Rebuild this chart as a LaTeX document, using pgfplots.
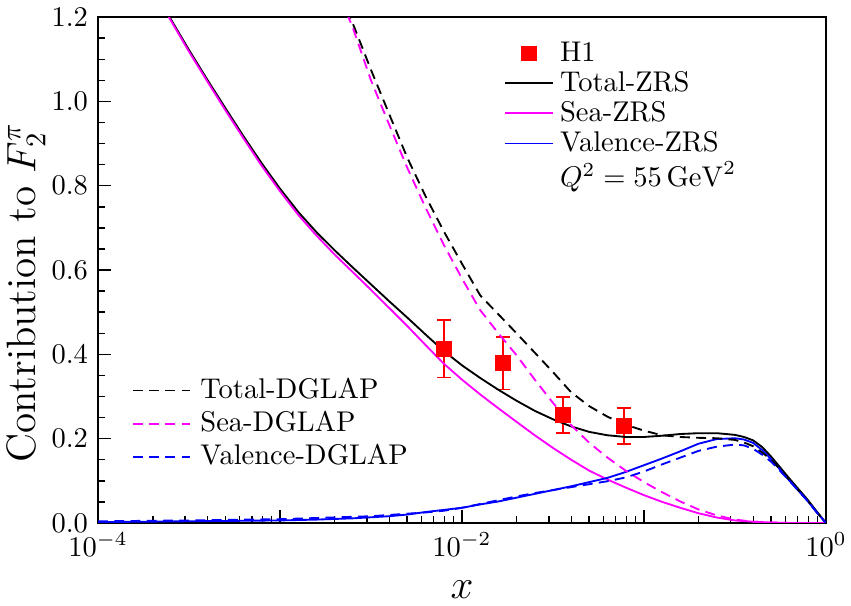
\documentclass[border=0pt]{standalone}
\usepackage{pgfplots}
\pgfplotsset{compat=1.18}
\definecolor{mag}{RGB}{255,0,255}
\definecolor{blu}{RGB}{0,0,255}
\definecolor{rd}{RGB}{255,0,0}
\tikzset{dgl/.style={dash pattern=on 3.5pt off 2.2pt}}
\begin{document}
\begin{tikzpicture}
\begin{axis}[
  scale only axis, width=255.4pt, height=177.5pt,
  xmode=log, xmin=1e-4, xmax=1, ymin=0, ymax=1.2,
  xtick={1e-4,1e-3,1e-2,1e-1,1},
  xticklabels={$10^{-4}$,,$10^{-2}$,,$10^{0}$},
  minor xtick={2e-4,3e-4,4e-4,5e-4,6e-4,7e-4,8e-4,9e-4,
               2e-3,3e-3,4e-3,5e-3,6e-3,7e-3,8e-3,9e-3,
               2e-2,3e-2,4e-2,5e-2,6e-2,7e-2,8e-2,9e-2,
               0.2,0.3,0.4,0.5,0.6,0.7,0.8,0.9},
  ytick={0,0.2,0.4,0.6,0.8,1.0,1.2},
  minor y tick num=3,
  y tick label style={/pgf/number format/.cd, fixed, fixed zerofill, precision=1},
  tick align=inside, tick pos=left,
  major tick length=4.5pt, minor tick length=2.3pt,
  axis line style={line width=0.7pt},
  every tick/.style={black, line width=0.5pt},
  xlabel={$x$}, ylabel={Contribution to $F_2^{\pi}$},
  label style={font=\Large},
  xlabel style={at={(axis description cs:0.5,0)}, anchor=center, yshift=-23.5pt},
  ylabel style={at={(axis description cs:-0.099,0.455)}, anchor=center},
  every axis plot/.append style={line width=0.65pt},
  legend style={at={(0.545,0.975)}, anchor=north west, draw=none, fill=none,
    font=\normalsize, row sep=-2pt},
  legend cell align=left,
]
\coordinate (SW) at (rel axis cs:0,0);
\coordinate (NE) at (rel axis cs:1,1);
% H1 data
\addplot[only marks, mark=square*, mark size=2.4pt, rd,
  error bars/.cd, y dir=both, y explicit,
  error bar style={rd, line width=0.5pt},
  error mark options={rotate=90, mark size=2.4pt, rd, line width=0.5pt}]
  table[x=x, y=y, y error=e] {
  x y e
  7.96e-3 0.413 0.068
  0.0168 0.379 0.062
  0.0359 0.256 0.043
  0.0776 0.230 0.043
  };
\addlegendentry{H1}
% Total-ZRS
\addplot[color=black] table {
1.995e-4 1.27
2.512e-4 1.195
3.162e-4 1.122
3.981e-4 1.052
5.012e-4 0.984
6.310e-4 0.917
7.943e-4 0.853
1e-3 0.793
1.259e-3 0.738
1.585e-3 0.690
1.995e-3 0.647
2.512e-3 0.606
3.162e-3 0.566
3.981e-3 0.526
5.012e-3 0.487
6.310e-3 0.447
7.943e-3 0.408
1e-2 0.374
1.259e-2 0.344
1.585e-2 0.316
1.995e-2 0.290
2.512e-2 0.266
3.162e-2 0.246
3.981e-2 0.229
5.012e-2 0.216
6.310e-2 0.208
7.943e-2 0.204
0.1 0.204
0.1259 0.207
0.1585 0.211
0.1995 0.213
0.2512 0.213
0.3162 0.209
0.3548 0.204
0.3981 0.196
0.4467 0.180
0.5012 0.157
0.6310 0.105
0.7943 0.055
0.8913 0.027
1.0 0.0
};
\addlegendentry{Total-ZRS}
% Sea-ZRS
\addplot[color=mag] table {
1.995e-4 1.267
2.512e-4 1.192
3.162e-4 1.118
3.981e-4 1.048
5.012e-4 0.979
6.310e-4 0.912
7.943e-4 0.847
1e-3 0.787
1.259e-3 0.731
1.585e-3 0.682
1.995e-3 0.637
2.512e-3 0.595
3.162e-3 0.553
3.981e-3 0.510
5.012e-3 0.467
6.310e-3 0.422
7.943e-3 0.378
1e-2 0.340
1.259e-2 0.305
1.585e-2 0.272
1.995e-2 0.240
2.512e-2 0.208
3.162e-2 0.178
3.981e-2 0.150
5.012e-2 0.124
6.310e-2 0.103
7.943e-2 0.084
0.1 0.066
0.1259 0.050
0.1585 0.036
0.1995 0.023
0.2512 0.013
0.3162 0.006
0.3981 0.003
0.5012 0.001
0.6310 0.0
1.0 0.0
};
\addlegendentry{Sea-ZRS}
% Valence-ZRS
\addplot[color=blu] table {
1e-4 0.002
3.162e-4 0.004
1e-3 0.006
1.585e-3 0.008
2.512e-3 0.011
3.981e-3 0.016
5.012e-3 0.020
6.310e-3 0.026
7.943e-3 0.031
1e-2 0.036
1.259e-2 0.044
1.585e-2 0.051
1.995e-2 0.060
2.512e-2 0.069
3.162e-2 0.078
3.981e-2 0.087
5.012e-2 0.097
6.310e-2 0.107
7.943e-2 0.121
0.1 0.137
0.1259 0.153
0.1585 0.170
0.1995 0.188
0.2512 0.199
0.3162 0.201
0.3548 0.198
0.3981 0.190
0.4467 0.173
0.5012 0.151
0.6310 0.100
0.7943 0.052
0.8913 0.025
1.0 0.0
};
\addlegendentry{Valence-ZRS}
\addlegendimage{empty legend}
\addlegendentry{$Q^2=55\,\mathrm{GeV}^2$}
% Total-DGLAP
\addplot[color=black, dgl, forget plot] table {
1.995e-3 1.29
2.512e-3 1.185
3.162e-3 1.075
3.981e-3 0.97
5.012e-3 0.866
6.310e-3 0.775
7.943e-3 0.692
1e-2 0.615
1.259e-2 0.540
1.585e-2 0.495
1.995e-2 0.450
2.512e-2 0.404
3.162e-2 0.358
3.981e-2 0.310
5.012e-2 0.277
6.310e-2 0.252
7.943e-2 0.233
0.1 0.219
0.1259 0.208
0.1585 0.204
0.1995 0.202
0.2512 0.201
0.3162 0.197
0.3548 0.191
0.3981 0.182
0.4467 0.167
0.5012 0.150
0.6310 0.102
0.7943 0.053
0.8913 0.026
1.0 0.0
};
% Sea-DGLAP
\addplot[color=mag, dgl, forget plot] table {
1.995e-3 1.28
2.512e-3 1.175
3.162e-3 1.05
3.981e-3 0.945
5.012e-3 0.842
6.310e-3 0.748
7.943e-3 0.66
1e-2 0.58
1.259e-2 0.505
1.585e-2 0.45
1.995e-2 0.398
2.512e-2 0.34
3.162e-2 0.285
3.981e-2 0.232
5.012e-2 0.19
6.310e-2 0.155
7.943e-2 0.124
0.1 0.097
0.1259 0.073
0.1585 0.051
0.1995 0.032
0.2512 0.018
0.3162 0.008
0.3981 0.003
0.5012 0.001
0.6310 0.0
1.0 0.0
};
% Valence-DGLAP
\addplot[color=blu, dgl, forget plot] table {
1e-4 0.004
3.162e-4 0.006
1e-3 0.009
3.162e-3 0.016
6.310e-3 0.025
7.943e-3 0.029
1e-2 0.036
1.259e-2 0.045
1.585e-2 0.054
1.995e-2 0.063
2.512e-2 0.071
3.162e-2 0.078
3.981e-2 0.085
5.012e-2 0.092
6.310e-2 0.099
7.943e-2 0.108
0.1 0.122
0.1259 0.139
0.1585 0.155
0.1995 0.171
0.2512 0.181
0.3162 0.186
0.3548 0.184
0.3981 0.176
0.4467 0.162
0.5012 0.145
0.6310 0.100
0.7943 0.052
0.8913 0.025
1.0 0.0
};
\end{axis}
\begin{axis}[
  scale only axis, width=255.4pt, height=177.5pt,
  xmin=0, xmax=1, ymin=0, ymax=1, hide axis,
  legend style={at={(0.034,0.31)}, anchor=north west, draw=none, fill=none,
    font=\normalsize, row sep=-1pt, column sep=1.5pt},
  legend image code/.code={\draw[mark repeat=2,mark phase=2,#1]
     plot coordinates {(0cm,0cm) (0.35cm,0cm) (0.7cm,0cm)};},
  legend cell align=left,
]
\addlegendimage{color=black, line width=0.65pt, dgl}
\addlegendentry{Total-DGLAP}
\addlegendimage{color=mag, line width=0.65pt, dgl}
\addlegendentry{Sea-DGLAP}
\addlegendimage{color=blu, line width=0.65pt, dgl}
\addlegendentry{Valence-DGLAP}
\end{axis}
\pgfresetboundingbox
\path[use as bounding box] ([shift={(-34.4pt,-28.8pt)}]SW) rectangle ([shift={(8.8pt,6pt)}]NE);
\end{tikzpicture}
\end{document}
